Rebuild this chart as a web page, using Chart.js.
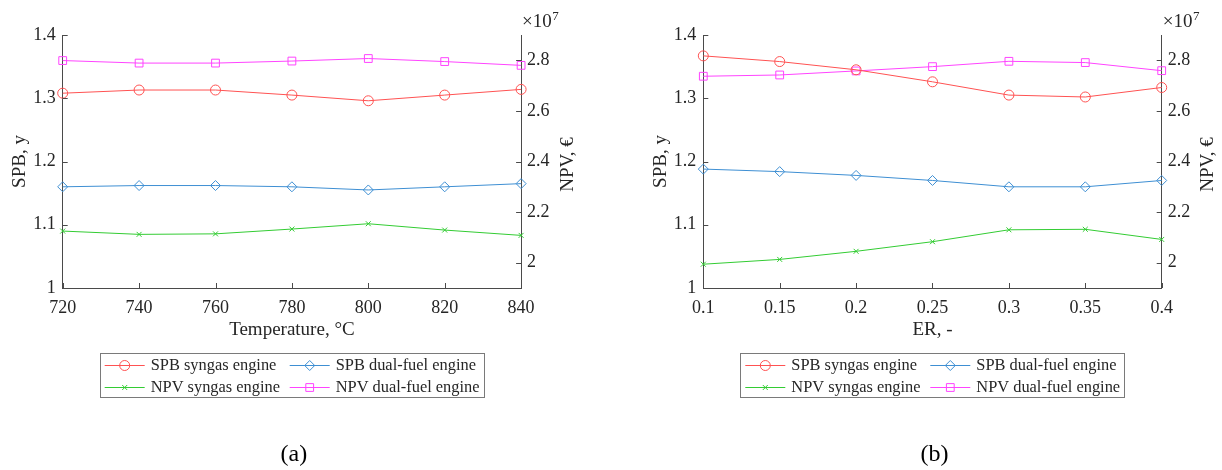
<!DOCTYPE html>
<html>
<head>
<meta charset="utf-8">
<script src="https://cdn.jsdelivr.net/npm/chart.js@4.4.1/dist/chart.umd.min.js"></script>
<style>
  html, body { margin: 0; padding: 0; background: #ffffff; }
  #wrap { position: relative; width: 1222px; height: 470px; overflow: hidden; }
  canvas { position: absolute; top: 0; }
</style>
</head>
<body>
<div id="wrap">
  <canvas id="panelA" width="611" height="470" style="left:0px"></canvas>
  <canvas id="panelB" width="611" height="470" style="left:611px"></canvas>
</div>
<script>
// (a) gasification temperature sweep
const temperatureC   = [720, 740, 760, 780, 800, 820, 840];
const spbSyngasTemp  = [1.308, 1.313, 1.313, 1.305, 1.296, 1.305, 1.314];
const spbDualTemp    = [1.160, 1.162, 1.162, 1.160, 1.155, 1.160, 1.165];
const npvSyngasTemp  = [2.125e7, 2.112e7, 2.114e7, 2.133e7, 2.154e7, 2.129e7, 2.108e7];
const npvDualTemp    = [2.799e7, 2.789e7, 2.789e7, 2.797e7, 2.807e7, 2.795e7, 2.780e7];

// (b) equivalence ratio sweep
const erValues       = [0.1, 0.15, 0.2, 0.25, 0.3, 0.35, 0.4];
const spbSyngasER    = [1.367, 1.358, 1.345, 1.326, 1.305, 1.302, 1.317];
const spbDualER      = [1.188, 1.184, 1.178, 1.170, 1.160, 1.160, 1.170];
const npvSyngasER    = [1.994e7, 2.013e7, 2.045e7, 2.083e7, 2.130e7, 2.132e7, 2.092e7];
const npvDualER      = [2.737e7, 2.742e7, 2.758e7, 2.775e7, 2.796e7, 2.791e7, 2.759e7];

// axis ticks and legend names
const spbTicks = [1, 1.1, 1.2, 1.3, 1.4];
const npvTicks = [2.0e7, 2.2e7, 2.4e7, 2.6e7, 2.8e7];
const seriesNames = ['SPB syngas engine', 'SPB dual-fuel engine', 'NPV syngas engine', 'NPV dual-fuel engine'];

const FONT = "'Liberation Serif', 'Times New Roman', serif";
const AXIS_COLOR = '#4a4a4a';
const TEXT_COLOR = '#262626';
Chart.defaults.font.family = FONT;

const seriesStyles = [
  { color: '#ff5252', pointStyle: 'circle',   radius: 5,   axis: 'y'  },
  { color: '#3e8fd3', pointStyle: 'rectRot',  radius: 5,   axis: 'y'  },
  { color: '#33cc33', pointStyle: 'crossRot', radius: 3.5, axis: 'y1' },
  { color: '#ff44ff', pointStyle: 'rect',     radius: 5.5, axis: 'y1' }
];

const fmt = v => Number(v.toFixed(4)).toString();

// inward tick marks on the left, bottom and right axes
const inwardTicks = {
  id: 'inwardTicks',
  afterDraw(chart) {
    const ctx = chart.ctx, a = chart.chartArea, len = 5;
    ctx.save();
    ctx.strokeStyle = AXIS_COLOR;
    ctx.lineWidth = 1;
    ctx.beginPath();
    chart.scales.x.ticks.forEach(t => {
      const px = Math.round(chart.scales.x.getPixelForValue(t.value)) + 0.5;
      ctx.moveTo(px, a.bottom); ctx.lineTo(px, a.bottom - len);
    });
    chart.scales.y.ticks.forEach(t => {
      const py = Math.round(chart.scales.y.getPixelForValue(t.value)) + 0.5;
      ctx.moveTo(a.left, py); ctx.lineTo(a.left + len, py);
    });
    chart.scales.y1.ticks.forEach(t => {
      const py = Math.round(chart.scales.y1.getPixelForValue(t.value)) + 0.5;
      ctx.moveTo(a.right, py); ctx.lineTo(a.right - len, py);
    });
    ctx.stroke();
    ctx.restore();
  }
};

// right axis title (reads bottom to top), exponent note, legend box, panel letter
const annotations = {
  id: 'annotations',
  afterDraw(chart, args, opts) {
    const ctx = chart.ctx, a = chart.chartArea;
    ctx.save();
    ctx.fillStyle = TEXT_COLOR;

    // right axis title
    ctx.save();
    ctx.translate(a.right + 46.5, (a.top + a.bottom) / 2 + 3);
    ctx.rotate(-Math.PI / 2);
    ctx.font = '19px ' + FONT;
    ctx.textAlign = 'center';
    ctx.textBaseline = 'middle';
    ctx.fillText('NPV, €', 0, 0);
    ctx.restore();

    // ×10^7 multiplier above the right axis
    ctx.font = '19px ' + FONT;
    ctx.textAlign = 'left';
    ctx.textBaseline = 'alphabetic';
    const base = '×10';
    ctx.fillText(base, a.right + 1, 27);
    const w = ctx.measureText(base).width;
    ctx.font = '13px ' + FONT;
    ctx.fillText('7', a.right + 1 + w + 0.5, 19.5);

    // legend
    const bx = a.left + 37, by = 353, bw = 384, bh = 44;
    ctx.strokeStyle = '#7a7a7a';
    ctx.lineWidth = 1;
    ctx.fillStyle = '#ffffff';
    ctx.fillRect(bx, by, bw, bh);
    ctx.strokeRect(Math.round(bx) + 0.5, by + 0.5, bw, bh);
    const rows = [365, 387], cols = [5, 190];
    chart.data.datasets.forEach((ds, i) => {
      const r = Math.floor(i / 2), c = i % 2;
      const x0 = bx + cols[c], yy = rows[r];
      ctx.strokeStyle = ds.borderColor;
      ctx.lineWidth = 1;
      ctx.beginPath();
      ctx.moveTo(x0, yy + 0.5); ctx.lineTo(x0 + 40, yy + 0.5);
      ctx.stroke();
      ctx.fillStyle = 'rgba(0,0,0,0)';
      ctx.strokeStyle = ds.borderColor;
      Chart.helpers.drawPoint(ctx, {
        pointStyle: ds.pointStyle, radius: ds.pointRadius, borderWidth: 1, rotation: 0
      }, x0 + 20, yy + 0.5);
      ctx.fillStyle = TEXT_COLOR;
      ctx.font = '16.4px ' + FONT;
      ctx.textAlign = 'left';
      ctx.textBaseline = 'middle';
      ctx.fillText(ds.label, x0 + 46, yy + 1);
    });

    // panel letter
    ctx.fillStyle = '#000000';
    ctx.font = '24px ' + FONT;
    ctx.textAlign = 'center';
    ctx.textBaseline = 'middle';
    ctx.fillText(opts.letter, (a.left + a.right) / 2 + 2, 455);
    ctx.restore();
  }
};

function makePanel(canvasId, xValues, seriesValues, xTitle, letter, leftWidth) {
  const plotWidth = 458.4;
  const rightWidth = 611 - leftWidth - plotWidth;
  const datasets = seriesValues.map((vals, i) => {
    const s = seriesStyles[i];
    return {
      label: seriesNames[i],
      data: xValues.map((x, j) => ({ x: x, y: vals[j] })),
      yAxisID: s.axis,
      borderColor: s.color,
      backgroundColor: 'rgba(0,0,0,0)',
      borderWidth: 1,
      pointStyle: s.pointStyle,
      pointRadius: s.radius,
      pointBorderWidth: 1,
      pointBorderColor: s.color,
      pointBackgroundColor: 'rgba(0,0,0,0)',
      tension: 0,
      clip: false
    };
  });

  const tickFont = { family: FONT, size: 18 };
  const titleFont = { family: FONT, size: 19 };
  return new Chart(document.getElementById(canvasId), {
    type: 'line',
    data: { datasets },
    plugins: [inwardTicks, annotations],
    options: {
      responsive: false,
      animation: false,
      layout: { padding: { top: 35, left: 0, right: 0, bottom: 0 } },
      plugins: {
        legend: { display: false },
        tooltip: { enabled: false },
        annotations: { letter: letter }
      },
      scales: {
        x: {
          type: 'linear',
          position: 'bottom',
          min: xValues[0],
          max: xValues[xValues.length - 1],
          afterBuildTicks: s => { s.ticks = xValues.map(v => ({ value: v })); },
          afterFit: s => { s.height = 182; },
          grid: { drawOnChartArea: false, drawTicks: false },
          border: { display: true, color: AXIS_COLOR, width: 1 },
          ticks: { font: tickFont, color: TEXT_COLOR, padding: 9, maxRotation: 0, autoSkip: false, callback: v => fmt(v) },
          title: { display: true, text: xTitle, color: TEXT_COLOR, font: titleFont, padding: { top: 0, bottom: 128.5 } }
        },
        y: {
          type: 'linear',
          position: 'left',
          min: 1,
          max: 1.4,
          afterBuildTicks: s => { s.ticks = spbTicks.map(v => ({ value: v })); },
          afterFit: s => { s.width = leftWidth; },
          grid: { drawOnChartArea: false, drawTicks: false },
          border: { display: true, color: AXIS_COLOR, width: 1 },
          ticks: { font: tickFont, color: TEXT_COLOR, padding: 7, callback: v => fmt(v) },
          title: { display: true, text: 'SPB, y', color: TEXT_COLOR, font: titleFont, padding: { top: leftWidth - 54, bottom: 0 } }
        },
        y1: {
          type: 'linear',
          position: 'right',
          min: 1.9e7,
          max: 2.9e7,
          afterBuildTicks: s => { s.ticks = npvTicks.map(v => ({ value: v })); },
          afterFit: s => { s.width = rightWidth; },
          grid: { drawOnChartArea: false, drawTicks: false },
          border: { display: true, color: AXIS_COLOR, width: 1 },
          ticks: { font: tickFont, color: TEXT_COLOR, padding: 6, callback: v => fmt(v / 1e7) }
        }
      }
    }
  });
}

makePanel('panelA', temperatureC,
  [spbSyngasTemp, spbDualTemp, npvSyngasTemp, npvDualTemp],
  'Temperature, °C', '(a)', 62.7);

makePanel('panelB', erValues,
  [spbSyngasER, spbDualER, npvSyngasER, npvDualER],
  'ER, -', '(b)', 92.3);
</script>
</body>
</html>
